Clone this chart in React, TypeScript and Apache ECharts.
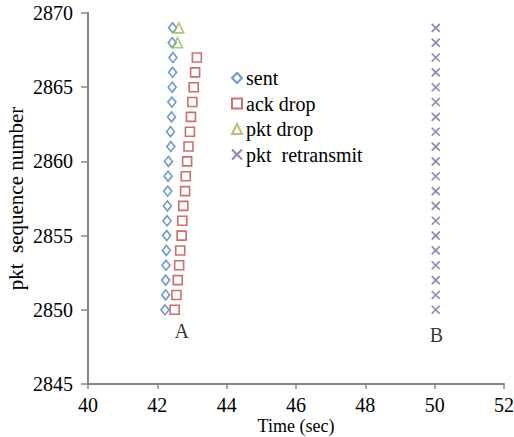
import React, { useEffect, useRef } from "react";
import * as echarts from "echarts";

const seqSent = [2850, 2851, 2852, 2853, 2854, 2855, 2856, 2857, 2858, 2859, 2860, 2861, 2862, 2863, 2864, 2865, 2866, 2867, 2868, 2869];
const timeSent = [42.22, 42.24, 42.24, 42.25, 42.26, 42.27, 42.28, 42.29, 42.3, 42.31, 42.32, 42.39, 42.38, 42.41, 42.42, 42.43, 42.44, 42.45, 42.43, 42.44];

const seqAck = [2850, 2851, 2852, 2853, 2854, 2855, 2856, 2857, 2858, 2859, 2860, 2861, 2862, 2863, 2864, 2865, 2866, 2867];
const timeAck = [42.5, 42.55, 42.59, 42.63, 42.66, 42.7, 42.72, 42.75, 42.8, 42.82, 42.86, 42.9, 42.94, 42.97, 43.01, 43.05, 43.09, 43.14];

const seqPktDrop = [2868, 2869];
const timePktDrop = [42.58, 42.62];

const seqRetx = [2850, 2851, 2852, 2853, 2854, 2855, 2856, 2857, 2858, 2859, 2860, 2861, 2862, 2863, 2864, 2865, 2866, 2867, 2868, 2869];
const timeRetx = [50.03, 50.03, 50.03, 50.03, 50.03, 50.03, 50.03, 50.03, 50.03, 50.03, 50.03, 50.03, 50.03, 50.03, 50.03, 50.03, 50.03, 50.03, 50.03, 50.03];

const noteX = [42.7, 50.05];
const noteY = [2848.55, 2848.3];
const noteText = ["A", "B"];

const seriesNames = ["sent", "ack drop", "pkt drop", "pkt  retransmit"];

const FONT = "serif";
const AXIS_COLOR = "#878787";

function pairs(xs: number[], ys: number[]) {
  return xs.map((x, i) => [x, ys[i]]);
}

export default function App() {
  const ref = useRef<HTMLDivElement>(null);
  useEffect(() => {
    document.body.style.margin = "0";
    if (!ref.current) return;
    const chart = echarts.init(ref.current, undefined, { renderer: "svg" });
    const hollow = (color: string) => ({ color: "#ffffff", borderColor: color, borderWidth: 1.6 });
    chart.setOption({
      animation: false,
      backgroundColor: "#ffffff",
      textStyle: { fontFamily: FONT, fontSize: 20 },
      grid: { left: 88, right: 10, top: 13, bottom: 53, outerBoundsMode: "none", containLabel: false },
      legend: {
        data: seriesNames,
        orient: "vertical",
        left: 226,
        top: 63,
        itemWidth: 10,
        itemHeight: 10,
        itemGap: 5.5,
        textStyle: { fontFamily: FONT, fontSize: 20, color: "#000", padding: [0, 0, 0, -1] },
        selectedMode: false,
      },
      xAxis: {
        type: "value",
        min: 40,
        max: 52,
        interval: 2,
        name: "Time (sec)",
        nameLocation: "middle",
        nameGap: 33,
        nameMoveOverlap: false,
        nameTextStyle: { fontFamily: FONT, fontSize: 18, color: "#000" },
        axisLine: { lineStyle: { color: AXIS_COLOR, width: 2 } },
        axisTick: { show: true, length: 5, lineStyle: { color: AXIS_COLOR, width: 1.5 } },
        axisLabel: { fontFamily: FONT, fontSize: 20, color: "#000", margin: 12, lineHeight: 18, formatter: (v: number) => String(v) },
        splitLine: { show: false },
      },
      yAxis: {
        type: "value",
        min: 2845,
        max: 2870,
        interval: 5,
        name: "pkt  sequence number",
        nameLocation: "middle",
        nameRotate: 90,
        nameGap: 62,
        nameMoveOverlap: false,
        nameTextStyle: { fontFamily: FONT, fontSize: 21, color: "#000" },
        axisLine: { show: true, lineStyle: { color: AXIS_COLOR, width: 2 } },
        axisTick: { show: true, length: 7, lineStyle: { color: AXIS_COLOR, width: 1.5 } },
        axisLabel: { fontFamily: FONT, fontSize: 20, color: "#000", margin: 15, formatter: (v: number) => String(v) },
        splitLine: { show: false },
      },
      series: [
        {
          name: seriesNames[0],
          type: "scatter",
          symbol: "diamond",
          symbolSize: [8, 10],
          itemStyle: hollow("#4a7ebb"),
          data: pairs(timeSent, seqSent),
          z: 3,
        },
        {
          name: seriesNames[1],
          type: "scatter",
          symbol: "rect",
          symbolSize: 9,
          itemStyle: hollow("#be4b48"),
          data: pairs(timeAck, seqAck),
          z: 2,
        },
        {
          name: seriesNames[2],
          type: "scatter",
          symbol: "triangle",
          symbolSize: 10,
          itemStyle: { color: "rgba(255,255,255,0)", borderColor: "#98b954", borderWidth: 1.6 },
          data: pairs(timePktDrop, seqPktDrop),
          z: 4,
        },
        {
          name: seriesNames[3],
          type: "scatter",
          symbol: "path://M0,0L10,10M10,0L0,10",
          symbolSize: 8,
          itemStyle: { color: "rgba(255,255,255,0)", borderColor: "#7d60a0", borderWidth: 1.6 },
          data: pairs(timeRetx, seqRetx),
        },
        {
          name: "notes",
          type: "scatter",
          symbolSize: 1,
          itemStyle: { color: "rgba(255,255,255,0)" },
          data: noteX.map((x, i) => [x, noteY[i], noteText[i]]),
          label: {
            show: true,
            position: "inside",
            formatter: (p: any) => p.value[2],
            fontFamily: FONT,
            fontSize: 20,
            color: "#000",
          },
          silent: true,
        },
      ],
    });
    return () => chart.dispose();
  }, []);
  return <div ref={ref} style={{ width: 514, height: 437 }} />;
}
